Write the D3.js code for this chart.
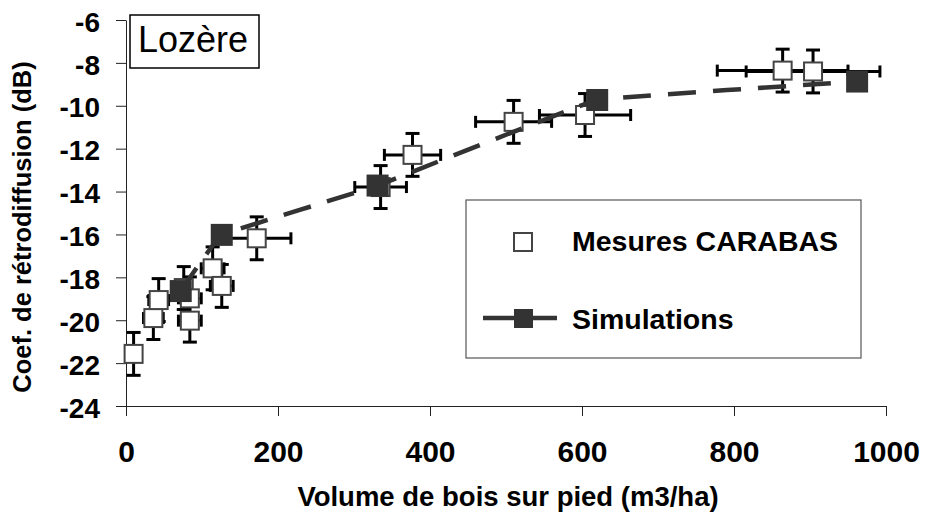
<!DOCTYPE html>
<html>
<head>
<meta charset="utf-8">
<script src="https://cdn.jsdelivr.net/npm/d3@7.9.0/dist/d3.min.js"></script>
<style>
  body { margin: 0; background: #fff; }
  svg { display: block; font-family: "Liberation Sans", Arial, sans-serif; }
</style>
</head>
<body>
<svg id="chart" width="928" height="517"></svg>
<script>
// Mesures CARABAS (open squares, with error bars)
const measVolume = [10, 36, 43, 76, 84, 84, 114, 126, 172, 335, 377, 510, 604, 864, 904];
const measCoef = [-21.57, -19.9, -19.06, -18.5, -20.02, -18.98, -17.58, -18.4, -16.18, -13.79, -12.29, -10.75, -10.43, -8.36, -8.4];
const measVolErr = [0, 13, 13, 0, 15, 15, 15, 15, 45, 34, 37, 50, 60, 86, 88];
const measCoefErr = [1, 1, 1, 1, 1, 1, 1, 1, 1, 1, 1, 1, 1, 1, 1];

// Simulations (filled squares, dashed curve)
const simVolume = [72, 126, 331, 620, 962];
const simCoef = [-18.64, -16.02, -13.72, -9.73, -8.87];

const xTicks = [0, 200, 400, 600, 800, 1000];
const yTicks = [-24, -22, -20, -18, -16, -14, -12, -10, -8, -6];

const svg = d3.select("#chart");

const x = d3.scaleLinear().domain([0, 1000]).range([126, 886]);
const y = d3.scaleLinear().domain([-24, -6]).range([406, 20]);

// Axes
const xAxis = svg.append("g")
  .attr("transform", `translate(0,${y(-24)})`)
  .call(d3.axisBottom(x).tickValues(xTicks).tickSize(10).tickSizeOuter(0)
    .tickPadding(24).tickFormat(d => String(d)));
xAxis.selectAll("line, path").attr("stroke", "#222");
xAxis.selectAll("text")
  .attr("fill", "#000")
  .style("font-size", "30px")
  .style("font-weight", "bold")
  .attr("dy", "0.72em");

const yAxis = svg.append("g")
  .attr("transform", `translate(${x(0)},0)`)
  .call(d3.axisLeft(y).tickValues(yTicks).tickSize(10).tickSizeOuter(0)
    .tickPadding(16).tickFormat(d => String(d)));
yAxis.selectAll("line, path").attr("stroke", "#222");
yAxis.selectAll("text")
  .attr("fill", "#000")
  .style("font-size", "28px")
  .style("font-weight", "bold")
  .attr("dy", "0.4em");

// Axis titles
svg.append("text")
  .attr("x", 508)
  .attr("y", 506)
  .attr("text-anchor", "middle")
  .style("font-size", "27.5px")
  .style("font-weight", "bold")
  .text("Volume de bois sur pied (m3/ha)");

svg.append("text")
  .attr("transform", "translate(31,227) rotate(-90)")
  .attr("text-anchor", "middle")
  .style("font-size", "25.5px")
  .style("font-weight", "bold")
  .text("Coef. de rétrodiffusion (dB)");

// Measurement error bars
const meas = measVolume.map((v, i) => ({
  v, c: measCoef[i], ev: measVolErr[i], ec: measCoefErr[i]
}));

const bars = svg.append("g").attr("stroke", "#000").attr("stroke-width", 3);
meas.forEach(d => {
  const cx = x(d.v), cy = y(d.c);
  // vertical
  bars.append("line").attr("x1", cx).attr("x2", cx).attr("y1", y(d.c + d.ec)).attr("y2", y(d.c - d.ec));
  [d.c + d.ec, d.c - d.ec].forEach(t => {
    bars.append("line").attr("x1", cx - 7).attr("x2", cx + 7).attr("y1", y(t)).attr("y2", y(t));
  });
  // horizontal
  if (d.ev > 0) {
    bars.append("line").attr("x1", x(d.v - d.ev)).attr("x2", x(d.v + d.ev)).attr("y1", cy).attr("y2", cy);
    [d.v - d.ev, d.v + d.ev].forEach(t => {
      bars.append("line").attr("x1", x(t)).attr("x2", x(t)).attr("y1", cy - 6).attr("y2", cy + 6);
    });
  }
});

// Measurement squares
svg.append("g")
  .selectAll("rect")
  .data(meas)
  .join("rect")
  .attr("x", d => x(d.v) - 9)
  .attr("y", d => y(d.c) - 9)
  .attr("width", 18)
  .attr("height", 18)
  .attr("fill", "#fff")
  .attr("stroke", "#444")
  .attr("stroke-width", 2);

// Simulation curve (lightly smoothed)
const sim = simVolume.map((v, i) => ({ v, c: simCoef[i] }));
const line = d3.line()
  .x(d => x(d.v))
  .y(d => y(d.c))
  .curve(d3.curveCardinal.tension(0.85));

svg.append("path")
  .datum(sim)
  .attr("d", line)
  .attr("fill", "none")
  .attr("stroke", "#333")
  .attr("stroke-width", 4.5)
  .attr("stroke-dasharray", "28,17");

svg.append("g")
  .selectAll("rect")
  .data(sim)
  .join("rect")
  .attr("x", d => x(d.v) - 11)
  .attr("y", d => y(d.c) - 11)
  .attr("width", 22)
  .attr("height", 22)
  .attr("fill", "#333");

// Legend
const legend = svg.append("g");
legend.append("rect")
  .attr("x", 466).attr("y", 200).attr("width", 395).attr("height", 158)
  .attr("fill", "#fff").attr("stroke", "#555").attr("stroke-width", 1.2);

legend.append("rect")
  .attr("x", 514).attr("y", 233).attr("width", 18).attr("height", 18)
  .attr("fill", "#fff").attr("stroke", "#444").attr("stroke-width", 2);
legend.append("text")
  .attr("x", 572).attr("y", 251)
  .style("font-size", "28.5px").style("font-weight", "bold")
  .text("Mesures CARABAS");

legend.append("line")
  .attr("x1", 483).attr("x2", 557).attr("y1", 318).attr("y2", 318)
  .attr("stroke", "#333").attr("stroke-width", 4.5);
legend.append("rect")
  .attr("x", 514).attr("y", 309).attr("width", 19).attr("height", 19)
  .attr("fill", "#333");
legend.append("text")
  .attr("x", 572).attr("y", 329)
  .style("font-size", "28.5px").style("font-weight", "bold")
  .text("Simulations");

// Site label
svg.append("rect")
  .attr("x", 130).attr("y", 15).attr("width", 129).attr("height", 53)
  .attr("fill", "#fff").attr("stroke", "#000").attr("stroke-width", 1.5);
svg.append("text")
  .attr("x", 138).attr("y", 52)
  .style("font-size", "36px")
  .text("Lozère");
</script>
</body>
</html>
